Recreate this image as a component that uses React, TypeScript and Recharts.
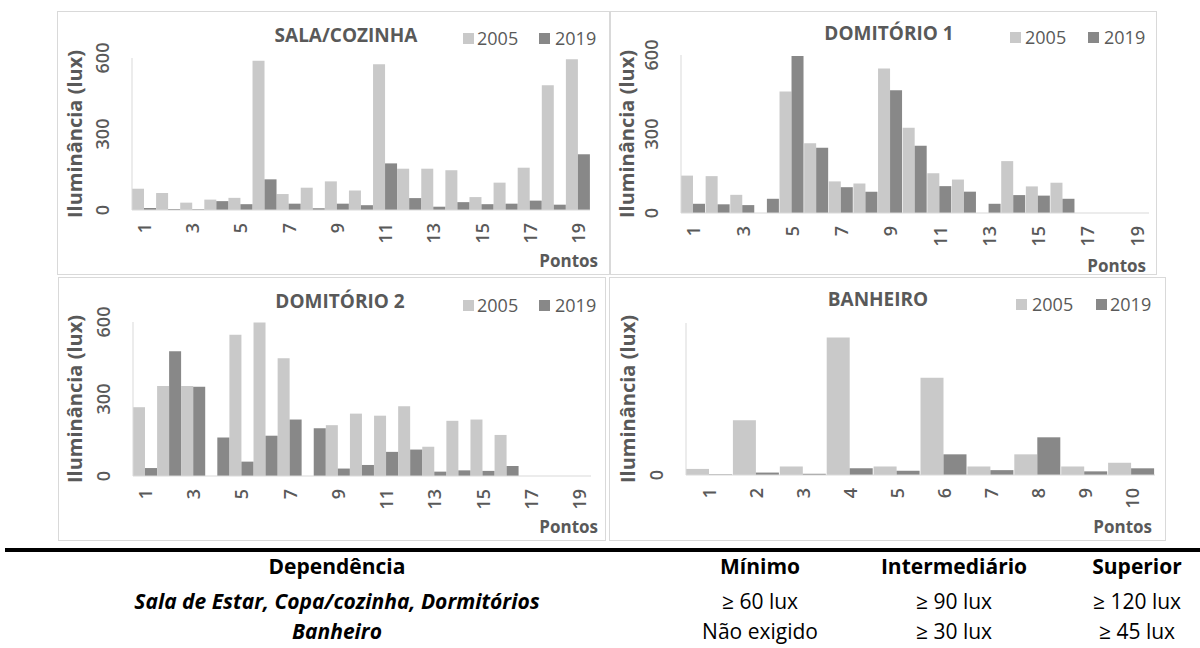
import { Bar, BarChart, Label, XAxis, YAxis } from "recharts";

const FONT = "'Open Sans', sans-serif";
const TEXT = "#595959";
const LIGHT = "#c9c9c9";
const DARK = "#888888";
const AXIS = "#d9d9d9";

// pontos de medição
const pontos19 = ["1", "2", "3", "4", "5", "6", "7", "8", "9", "10", "11", "12", "13", "14", "15", "16", "17", "18", "19"];
const pontos10 = ["1", "2", "3", "4", "5", "6", "7", "8", "9", "10"];

// iluminância (lux)
const salaCozinha2005 = [84, 67, 29, 41, 48, 589, 63, 88, 113, 77, 575, 163, 163, 157, 51, 108, 167, 492, 595];
const salaCozinha2019 = [8, 4, 3, 35, 23, 121, 25, 7, 25, 19, 184, 47, 13, 31, 23, 25, 37, 21, 220];

const dormitorio1_2005 = [142, 140, 69, null, 461, 265, 120, 112, 549, 324, 151, 127, null, 197, 101, 115, null, null, null];
const dormitorio1_2019 = [35, 33, 30, 54, 596, 248, 98, 81, 466, 255, 102, 81, 35, 68, 66, 54, null, null, null];

const dormitorio2_2005 = [268, 351, 351, null, 550, 598, 459, null, 198, 243, 235, 272, 114, 215, 220, 160, null, null, null];
const dormitorio2_2019 = [31, 486, 348, 150, 56, 157, 220, 186, 29, 43, 94, 103, 17, 22, 20, 39, null, null, null];

const banheiro2005 = [10, 90, 14, 226, 14, 160, 14, 34, 14, 20];
const banheiro2019 = [1, 4, 2, 11, 7, 34, 8, 62, 6, 11];

// tabela de requisitos
const tableHeader = ["Dependência", "Mínimo", "Intermediário", "Superior"];
const tableRows = [
  ["Sala de Estar, Copa/cozinha, Dormitórios", "≥ 60 lux", "≥ 90 lux", "≥ 120 lux"],
  ["Banheiro", "Não exigido", "≥ 30 lux", "≥ 45 lux"],
];
const colCenters = [337, 760, 954, 1137];
const rowCenters = [566, 601, 631];

interface Box { l: number; t: number; r: number; b: number }
interface PanelCfg {
  title: string;
  box: Box;
  plot: Box;
  yMax: number;
  yTicks: number[];
  interval: number;
  titleX: number;
  titleY: number;
  legendX: [number, number];
  legendTextX: [number, number];
  legendY: number;
  pontosRight: number;
  pontosY: number;
  yTitleX: number;
}

const panels: PanelCfg[] = [
  {
    title: "SALA/COZINHA",
    box: { l: 57, t: 11, r: 610, b: 275 },
    plot: { l: 132, t: 58, r: 590, b: 210 },
    yMax: 600, yTicks: [0, 300, 600], interval: 1,
    titleX: 346, titleY: 35,
    legendX: [463, 539], legendTextX: [477, 555], legendY: 38,
    pontosRight: 598, pontosY: 260, yTitleX: 74,
  },
  {
    title: "DOMITÓRIO 1",
    box: { l: 610, t: 11, r: 1157, b: 275 },
    plot: { l: 681, t: 55, r: 1149, b: 213 },
    yMax: 600, yTicks: [0, 300, 600], interval: 1,
    titleX: 889, titleY: 33,
    legendX: [1010, 1088], legendTextX: [1025, 1104], legendY: 37,
    pontosRight: 1146, pontosY: 265, yTitleX: 626,
  },
  {
    title: "DOMITÓRIO 2",
    box: { l: 58, t: 277, r: 606, b: 541 },
    plot: { l: 133, t: 322, r: 591, b: 476 },
    yMax: 600, yTicks: [0, 300, 600], interval: 1,
    titleX: 340, titleY: 301,
    legendX: [463, 539], legendTextX: [477, 555], legendY: 305,
    pontosRight: 598, pontosY: 526, yTitleX: 74,
  },
  {
    title: "BANHEIRO",
    box: { l: 609, t: 277, r: 1166, b: 541 },
    plot: { l: 686, t: 323, r: 1155, b: 475 },
    yMax: 250, yTicks: [0], interval: 0,
    titleX: 878, titleY: 299,
    legendX: [1016, 1096], legendTextX: [1032, 1110], legendY: 304,
    pontosRight: 1152, pontosY: 526, yTitleX: 627,
  },
];

function Panel({ cfg, categories, v2005, v2019 }: {
  cfg: PanelCfg; categories: string[]; v2005: (number | null)[]; v2019: (number | null)[];
}) {
  const { box, plot } = cfg;
  const width = box.r - box.l;
  const height = box.b - box.t;
  const data = categories.map((c, i) => ({ ponto: c, y2005: v2005[i], y2019: v2019[i] }));

  const yTick = (p: any) => {
    const x = p.x - 30;
    return (
      <text x={x} y={p.y} transform={`rotate(-90 ${x} ${p.y})`} textAnchor="middle"
        dominantBaseline="central" fill={TEXT} fontSize={18} fontWeight={600} fontFamily={FONT}>
        {p.payload.value}
      </text>
    );
  };
  const xTick = (p: any) => {
    const y = p.y + 13;
    return (
      <text x={p.x} y={y} transform={`rotate(-90 ${p.x} ${y})`} textAnchor="end"
        dominantBaseline="central" fill={TEXT} fontSize={18} fontWeight={600} fontFamily={FONT}>
        {p.payload.value}
      </text>
    );
  };

  const legendItems = [
    { name: "2005", color: LIGHT },
    { name: "2019", color: DARK },
  ];

  return (
    <>
      <div style={{
        position: "absolute", left: box.l, top: box.t, width, height,
        border: `1px solid ${AXIS}`, boxSizing: "border-box",
      }} />
      <div style={{ position: "absolute", left: box.l, top: box.t, width, height }}>
        <BarChart width={width} height={height} data={data} barCategoryGap={0} barGap={0}
          margin={{ top: plot.t - box.t, right: box.r - plot.r, bottom: 0, left: 0 }}>
          <XAxis dataKey="ponto" interval={cfg.interval} height={box.b - plot.b}
            axisLine={{ stroke: AXIS }} tickLine={false} tickSize={0} tickMargin={0} tick={xTick}>
            <Label content={() => (
              <text x={cfg.pontosRight - box.l} y={cfg.pontosY - box.t} textAnchor="end"
                dominantBaseline="central" fill={TEXT} fontSize={17} fontWeight={700} fontFamily={FONT}>
                Pontos
              </text>
            )} />
          </XAxis>
          <YAxis domain={[0, cfg.yMax]} ticks={cfg.yTicks} width={plot.l - box.l}
            axisLine={{ stroke: AXIS }} tickLine={false} tickSize={0} tickMargin={0} tick={yTick}>
            <Label content={() => {
              const x = cfg.yTitleX - box.l;
              const y = (plot.t + plot.b) / 2 - box.t;
              return (
                <text x={x} y={y} transform={`rotate(-90 ${x} ${y})`} textAnchor="middle"
                  dominantBaseline="central" fill={TEXT} fontSize={20} fontWeight={700} fontFamily={FONT}>
                  Iluminância (lux)
                </text>
              );
            }} />
          </YAxis>
          <Bar dataKey="y2005" name="2005" fill={LIGHT} isAnimationActive={false} />
          <Bar dataKey="y2019" name="2019" fill={DARK} isAnimationActive={false} />
        </BarChart>
      </div>
      <div style={{
        position: "absolute", left: cfg.titleX, top: cfg.titleY, transform: "translate(-50%, -50%)",
        fontSize: 19, fontWeight: 700, color: TEXT, whiteSpace: "nowrap", lineHeight: 1,
      }}>
        {cfg.title}
      </div>
      {legendItems.map((it, i) => (
        <div key={it.name}>
          <div style={{
            position: "absolute", left: cfg.legendX[i], top: cfg.legendY - 5.5,
            width: 11, height: 11, background: it.color,
          }} />
          <div style={{
            position: "absolute", left: cfg.legendTextX[i], top: cfg.legendY, transform: "translateY(-50%)",
            fontSize: 18, color: TEXT, lineHeight: 1, whiteSpace: "nowrap",
          }}>
            {it.name}
          </div>
        </div>
      ))}
    </>
  );
}

export default function App() {
  return (
    <div style={{
      position: "absolute", left: 0, top: 0, width: 1200, height: 648,
      background: "#fff", fontFamily: FONT, overflow: "hidden",
    }}>
      <Panel cfg={panels[0]} categories={pontos19} v2005={salaCozinha2005} v2019={salaCozinha2019} />
      <Panel cfg={panels[1]} categories={pontos19} v2005={dormitorio1_2005} v2019={dormitorio1_2019} />
      <Panel cfg={panels[2]} categories={pontos19} v2005={dormitorio2_2005} v2019={dormitorio2_2019} />
      <Panel cfg={panels[3]} categories={pontos10} v2005={banheiro2005} v2019={banheiro2019} />

      <div style={{ position: "absolute", left: 5, top: 548, width: 1195, height: 4, background: "#000" }} />
      {[tableHeader, ...tableRows].map((row, r) =>
        row.map((cell, c) => (
          <div key={`${r}-${c}`} style={{
            position: "absolute", left: colCenters[c], top: rowCenters[r],
            transform: "translate(-50%, -50%)", whiteSpace: "nowrap", lineHeight: 1,
            fontSize: 21, color: "#000",
            fontWeight: r === 0 || c === 0 ? 700 : 400,
            fontStyle: r > 0 && c === 0 ? "italic" : "normal",
          }}>
            {cell}
          </div>
        ))
      )}
    </div>
  );
}
